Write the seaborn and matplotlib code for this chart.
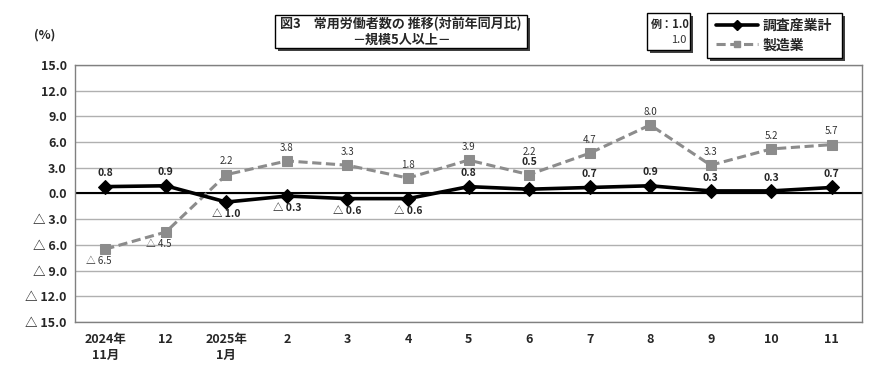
import matplotlib
matplotlib.use("Agg")
import matplotlib.pyplot as plt
import matplotlib.patches as mpatches
from matplotlib.lines import Line2D
from matplotlib.ticker import FuncFormatter
import pandas as pd
import seaborn as sns

# Data
months = ["2024年\n11月", "12", "2025年\n1月", "2", "3", "4", "5", "6", "7", "8", "9", "10", "11"]
total = [0.8, 0.9, -1.0, -0.3, -0.6, -0.6, 0.8, 0.5, 0.7, 0.9, 0.3, 0.3, 0.7]
manufacturing = [-6.5, -4.5, 2.2, 3.8, 3.3, 1.8, 3.9, 2.2, 4.7, 8.0, 3.3, 5.2, 5.7]
y_ticks = [-15, -12, -9, -6, -3, 0, 3, 6, 9, 12, 15]

sns.set_style("white")
plt.rcParams["font.family"] = ["Noto Sans CJK JP", "DejaVu Sans"]


def fmt(v):
    return f"△ {abs(v):.1f}" if v < 0 else f"{v:.1f}"


df = pd.DataFrame({"x": range(len(months)), "total": total, "mfg": manufacturing})

fig = plt.figure(figsize=(8.9, 3.69), dpi=100)
ax = fig.add_axes([0.0843, 0.1274, 0.8843, 0.6965])

sns.lineplot(data=df, x="x", y="mfg", ax=ax, color="#8c8c8c", linewidth=2.2,
             linestyle=(0, (3, 1.5)), marker="s", markersize=7,
             markeredgecolor="#8c8c8c", zorder=3)
sns.lineplot(data=df, x="x", y="total", ax=ax, color="black", linewidth=2.6,
             marker="D", markersize=7, markeredgecolor="black", zorder=4)

ax.axhline(0, color="black", linewidth=1.5, zorder=2)
ax.set_xlim(-0.5, len(months) - 0.5)
ax.set_ylim(-15, 15)
ax.set_yticks(y_ticks)
ax.yaxis.set_major_formatter(FuncFormatter(lambda v, p: fmt(v)))
ax.set_xticks(range(len(months)))
ax.set_xticklabels(months, linespacing=1.3)
ax.grid(axis="y", color="#b0b0b0", linewidth=1)
ax.set_xlabel("")
ax.set_ylabel("")
for s in ax.spines.values():
    s.set_color("#808080")
    s.set_linewidth(1)
ax.tick_params(axis="both", length=0, labelsize=9)
for lbl in ax.get_xticklabels() + ax.get_yticklabels():
    lbl.set_fontweight("bold")
ax.tick_params(axis="x", pad=8)
ax.tick_params(axis="y", pad=6)

# Data labels
for i, v in enumerate(total):
    if v >= 0:
        dy = 6 if i != 7 else 16
        va = "bottom"
    else:
        dy = -5
        va = "top"
    ax.annotate(fmt(v), (i, v), xytext=(0, dy), textcoords="offset points",
                ha="center", va=va, fontsize=7.5, fontweight="bold", zorder=5)
for i, v in enumerate(manufacturing):
    if v >= 0:
        dy = 6 if i != 7 else 13
        ax.annotate(fmt(v), (i, v), xytext=(0, dy), textcoords="offset points",
                    ha="center", va="bottom", fontsize=7, color="#333333", zorder=5)
    else:
        ax.annotate(fmt(v), (i, v), xytext=(-5, -5), textcoords="offset points",
                    ha="center", va="top", fontsize=7, color="#333333", zorder=5)

fig.text(45 / 890, 1 - 35 / 369, "(%)", ha="center", va="center",
         fontsize=9, fontweight="bold")


def fig_box(x0, y0, x1, y1):
    W, H = 890, 369
    shadow = mpatches.Rectangle(((x0 + 3) / W, 1 - (y1 + 3) / H), (x1 - x0) / W,
                                (y1 - y0) / H, transform=fig.transFigure,
                                facecolor="#404040", edgecolor="none", zorder=1)
    box = mpatches.Rectangle((x0 / W, 1 - y1 / H), (x1 - x0) / W, (y1 - y0) / H,
                             transform=fig.transFigure, facecolor="white",
                             edgecolor="black", linewidth=1, zorder=2)
    fig.add_artist(shadow)
    fig.add_artist(box)


# Title box
fig_box(275, 15, 527, 48)
fig.text(401 / 890, 1 - 24 / 369, "図3　常用労働者数の 推移(対前年同月比)",
         ha="center", va="center", fontsize=9.4, fontweight="bold", zorder=3)
fig.text(401 / 890, 1 - 40 / 369, "－規模5人以上－",
         ha="center", va="center", fontsize=9.4, fontweight="bold", zorder=3)

# Example box
fig_box(647, 13, 690, 50)
fig.text(651 / 890, 1 - 24 / 369, "例：1.0", ha="left", va="center",
         fontsize=8, fontweight="bold", zorder=3)
fig.text(686 / 890, 1 - 40 / 369, "1.0", ha="right", va="center",
         fontsize=8, color="#333333", zorder=3)

# Legend box
fig_box(707, 13, 842, 58)
handles = [
    Line2D([], [], color="black", linewidth=2.6, marker="D", markersize=5),
    Line2D([], [], color="#8c8c8c", linewidth=2.2, linestyle=(0, (3, 1.5)),
           marker="s", markersize=5),
]
leg = fig.legend(handles, ["調査産業計", "製造業"], loc="center",
                 bbox_to_anchor=(774 / 890, 1 - 35.5 / 369), frameon=False,
                 handlelength=3.0, handletextpad=0.3, labelspacing=0.4,
                 prop={"size": 10, "weight": "bold"})
leg.set_zorder(4)

fig.savefig("out.png", dpi=100)
